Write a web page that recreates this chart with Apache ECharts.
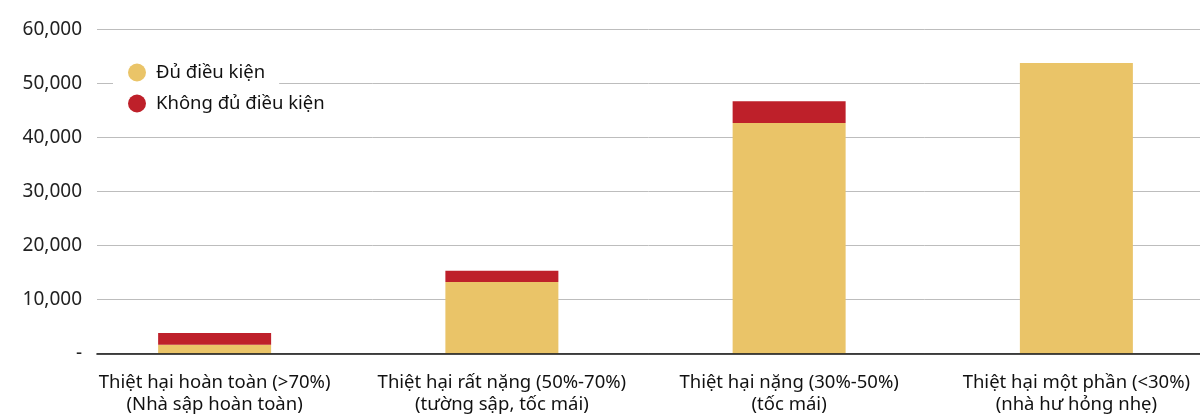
<!DOCTYPE html>
<html>
<head>
<meta charset="utf-8">
<script src="https://cdn.jsdelivr.net/npm/echarts@6/dist/echarts.min.js"></script>
<style>
  html, body { margin: 0; padding: 0; background: #fff; }
  #chart { width: 1200px; height: 416px; }
</style>
</head>
<body>
<div id="chart"></div>
<script>
// Damage categories (two-line labels)
const categories = [
  'Thiệt hại hoàn toàn (>70%)\n(Nhà sập hoàn toàn)',
  'Thiệt hại rất nặng (50%-70%)\n(tường sập, tốc mái)',
  'Thiệt hại nặng (30%-50%)\n(tốc mái)',
  'Thiệt hại một phần (<30%)\n(nhà hư hỏng nhẹ)'
];
const seriesNames = ['Đủ điều kiện', 'Không đủ điều kiện'];
// Houses eligible for support
const eligible = [1600, 13250, 42650, 53750];
// Houses not eligible for support
const notEligible = [2200, 2050, 4050, 0];
// Value axis
const yMin = 0, yMax = 60000, yStep = 10000;

const FONT = '"Noto Sans", "Open Sans", sans-serif';
const YELLOW = '#EAC468';
const RED = '#BE202A';
const TOP = 29.3, BOTTOM = 62.5;

const chart = echarts.init(document.getElementById('chart'), null, { renderer: 'canvas' });

const legendText = { fontFamily: FONT, fontSize: 18.5, color: '#111', padding: [0, 0, 0, 5] };

chart.setOption({
  backgroundColor: '#fff',
  animation: false,
  grid: [
    // axis + grid lines
    { left: 97, right: 0, top: TOP, bottom: BOTTOM, outerBoundsMode: 'none' },
    // bars: the category band runs a little past the right edge
    { left: 71, width: 1149, top: TOP, bottom: BOTTOM, outerBoundsMode: 'none' }
  ],
  legend: [
    {
      data: [seriesNames[0]],
      orient: 'vertical',
      left: 113, top: 57,
      padding: [6, 14, 6, 15],
      backgroundColor: '#fff',
      icon: 'circle', itemWidth: 18, itemHeight: 18,
      textStyle: legendText
    },
    {
      data: [seriesNames[1]],
      orient: 'vertical',
      left: 128, top: 94,
      padding: 0,
      icon: 'circle', itemWidth: 18, itemHeight: 18,
      textStyle: legendText
    }
  ],
  xAxis: [
    {
      gridIndex: 0, type: 'value', min: 0, max: 1,
      axisLine: { show: true, lineStyle: { color: '#111', width: 1.6 } },
      axisTick: { show: false }, axisLabel: { show: false }, splitLine: { show: false },
      z: 5
    },
    {
      gridIndex: 1, type: 'category', data: categories,
      axisLine: { show: false }, axisTick: { show: false },
      axisLabel: {
        fontFamily: FONT, fontSize: 18.5, color: '#111', lineHeight: 22,
        margin: 18, interval: 0
      }
    }
  ],
  yAxis: [
    {
      gridIndex: 0, type: 'value', min: yMin, max: yMax, interval: yStep,
      axisLine: { show: false }, axisTick: { show: false },
      axisLabel: {
        fontFamily: FONT, fontSize: 19, color: '#222', margin: 15,
        formatter: v => v === 0 ? '-' : v.toLocaleString('en-US')
      },
      splitLine: { lineStyle: { color: '#bdbdbd', width: 1 } }
    },
    {
      gridIndex: 1, type: 'value', min: yMin, max: yMax, interval: yStep,
      show: false, splitLine: { show: false }
    }
  ],
  series: [
    {
      name: seriesNames[0], type: 'bar', stack: 'total',
      xAxisIndex: 1, yAxisIndex: 1,
      barWidth: 113, data: eligible,
      itemStyle: { color: YELLOW }
    },
    {
      name: seriesNames[1], type: 'bar', stack: 'total',
      xAxisIndex: 1, yAxisIndex: 1,
      barWidth: 113, data: notEligible,
      itemStyle: { color: RED }
    }
  ]
});
</script>
</body>
</html>
